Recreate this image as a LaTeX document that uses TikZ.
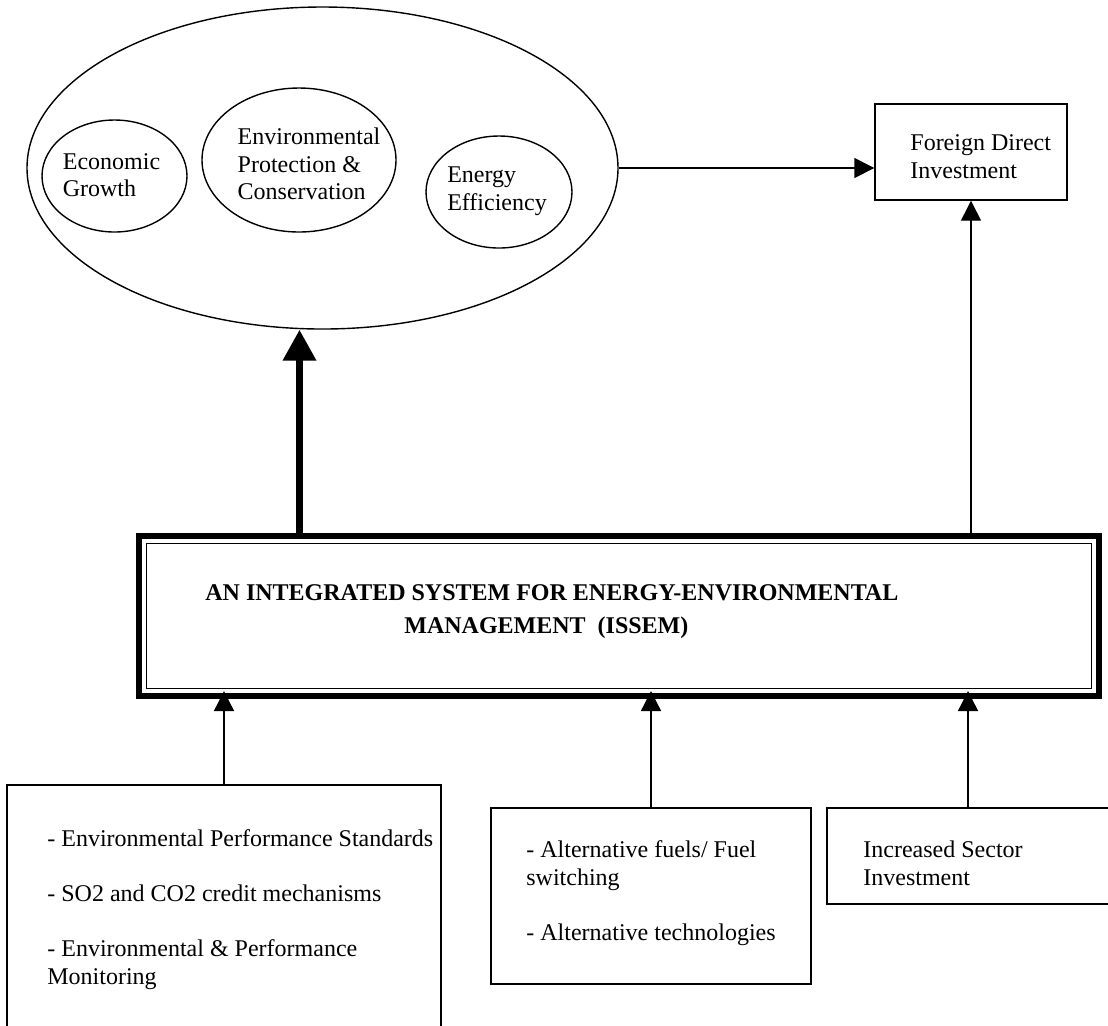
\documentclass[tikz,border=0pt]{standalone}
\usepackage{fontspec}
\setmainfont{Liberation Serif}
\usetikzlibrary{shapes.geometric,arrows.meta}

\newcommand\diagfont{\fontsize{12}{13.75}\selectfont}

\begin{document}
\begin{tikzpicture}[x=0.5pt, y=-0.5pt,
    font=\diagfont,
    oval/.style={ellipse, draw=black, line width=0.7pt, inner sep=0pt},
    box/.style={rectangle, draw=black, line width=0.7pt, inner sep=0pt},
    txt/.style={align=left, inner sep=0pt},
    edge/.style={line width=0.7pt, -{Triangle[length=10pt, width=10pt]}},
    bigedge/.style={line width=3.5pt, -{Triangle[length=15.5pt, width=16pt]}}
]
    \useasboundingbox (0,0) rectangle (1108,1025);
    \clip (0,0) rectangle (1108,1025);

    \node[oval, minimum width=295.5pt, minimum height=161pt] (goals) at (322.5,168) {};
    \node[oval, minimum width=72.5pt, minimum height=56pt] (econ) at (114.5,176) {};
    \node[oval, minimum width=97pt, minimum height=72pt] (env) at (299,160) {};
    \node[oval, minimum width=73pt, minimum height=56pt] (eff) at (499,192) {};
    \node[txt] (econtext) at (111.5,175) {Economic\\Growth};
    \node[txt] (envtext) at (309,164) {Environmental\\Protection \&\\Conservation};
    \node[txt] (efftext) at (497,191) {Energy\\Efficiency};

    \node[box, minimum width=96pt, minimum height=48pt] (fdi) at (971,152) {};
    \node[txt, anchor=north west] (fditext) at (910,134.5) {Foreign Direct\\Investment};

    \node[rectangle, draw=black, line width=3.25pt, outer sep=0pt,
        minimum width=480pt, minimum height=80pt] (issem) at (619,616) {};
    \draw[line width=0.6pt] ([shift={(3.75pt,-3.75pt)}]issem.north west)
        rectangle ([shift={(-3.75pt,3.75pt)}]issem.south east);
    \node[txt, anchor=north west, font=\diagfont\bfseries] (issemtext) at (205,584)
        {AN INTEGRATED SYSTEM FOR ENERGY-ENVIRONMENTAL\\[2.75pt]\hspace*{99.5pt}MANAGEMENT\ \ (ISSEM)};

    \node[box, minimum width=217pt, minimum height=135pt] (policy) at (224,920) {};
    \node[box, minimum width=160pt, minimum height=88pt] (tech) at (651,896) {};
    \node[box, minimum width=141pt, minimum height=48pt] (invest) at (968,856) {};
    \node[txt, anchor=north west] (policytext) at (47,829.5)
        {- Environmental Performance Standards\\[13.75pt]- SO2 and CO2 credit mechanisms\\[13.75pt]- Environmental \& Performance\\Monitoring};
    \node[txt, anchor=north west] (techtext) at (526,840.5)
        {- Alternative fuels/ Fuel\\switching\\[13.75pt]- Alternative technologies};
    \node[txt, anchor=north west] (investtext) at (863,840.5) {Increased Sector\\Investment};

    \coordinate (goalsfoot) at ([xshift=-11.5pt]goals.south);
    \coordinate (issemfoot) at ([yshift=2.5pt]issem.south);
    \draw[bigedge] (issem.north -| goalsfoot) -- (goalsfoot);
    \draw[edge] (goals.east) -- (goals.east -| fdi.west);
    \draw[edge] (fdi.south |- issem.north) -- (fdi.south);
    \draw[edge] (policy.north) -- (issemfoot -| policy.north);
    \draw[edge] (tech.north) -- (issemfoot -| tech.north);
    \draw[edge] (invest.north) -- (issemfoot -| invest.north);
\end{tikzpicture}
\end{document}
